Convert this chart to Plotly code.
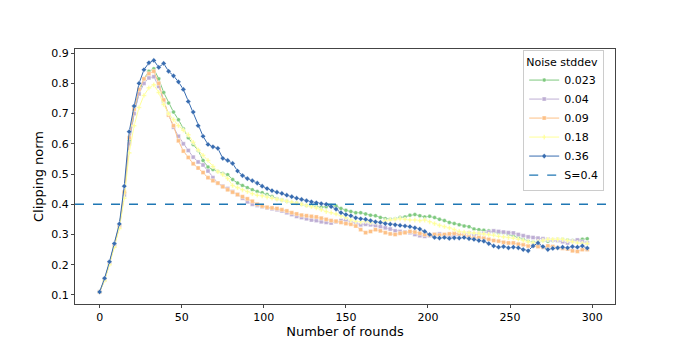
import plotly.graph_objects as go

# Data: clipping norm per round (sampled every 3 rounds) for each noise stddev
rounds = list(range(0, 300, 3))

norm_0023 = [0.110, 0.150, 0.205, 0.265, 0.330, 0.440, 0.610, 0.700, 0.770, 0.815,
             0.840, 0.848, 0.815, 0.770, 0.735, 0.705, 0.680, 0.650, 0.620, 0.598,
             0.578, 0.545, 0.523, 0.515, 0.508, 0.502, 0.498, 0.482, 0.470, 0.462,
             0.455, 0.448, 0.442, 0.438, 0.432, 0.426, 0.418, 0.414, 0.410, 0.406,
             0.404, 0.400, 0.396, 0.395, 0.392, 0.390, 0.392, 0.396, 0.394, 0.386,
             0.380, 0.376, 0.372, 0.372, 0.368, 0.364, 0.362, 0.356, 0.352, 0.350,
             0.352, 0.356, 0.358, 0.364, 0.366, 0.362, 0.358, 0.360, 0.356, 0.350,
             0.346, 0.340, 0.336, 0.332, 0.328, 0.326, 0.318, 0.316, 0.314, 0.312,
             0.308, 0.305, 0.306, 0.300, 0.296, 0.290, 0.284, 0.278, 0.274, 0.276,
             0.280, 0.278, 0.280, 0.284, 0.284, 0.282, 0.280, 0.282, 0.284, 0.286]

norm_004 = [0.110, 0.150, 0.205, 0.262, 0.325, 0.430, 0.600, 0.700, 0.765, 0.800,
            0.818, 0.822, 0.790, 0.740, 0.700, 0.655, 0.625, 0.600, 0.578, 0.556,
            0.540, 0.530, 0.510, 0.488, 0.470, 0.460, 0.452, 0.442, 0.432, 0.420,
            0.408, 0.400, 0.396, 0.392, 0.388, 0.385, 0.382, 0.378, 0.372, 0.366,
            0.360, 0.356, 0.352, 0.348, 0.346, 0.342, 0.340, 0.338, 0.342, 0.346,
            0.348, 0.342, 0.336, 0.332, 0.334, 0.332, 0.330, 0.326, 0.322, 0.318,
            0.312, 0.310, 0.308, 0.306, 0.300, 0.296, 0.294, 0.296, 0.300, 0.302,
            0.296, 0.292, 0.296, 0.300, 0.302, 0.305, 0.300, 0.302, 0.304, 0.308,
            0.312, 0.310, 0.308, 0.306, 0.305, 0.300, 0.296, 0.292, 0.290, 0.288,
            0.286, 0.284, 0.282, 0.280, 0.276, 0.272, 0.278, 0.282, 0.276, 0.272]

norm_009 = [0.110, 0.150, 0.205, 0.262, 0.328, 0.440, 0.620, 0.715, 0.780, 0.815,
            0.832, 0.840, 0.800, 0.745, 0.695, 0.660, 0.610, 0.576, 0.555, 0.534,
            0.520, 0.505, 0.488, 0.478, 0.470, 0.458, 0.448, 0.440, 0.432, 0.425,
            0.418, 0.410, 0.400, 0.394, 0.390, 0.388, 0.386, 0.382, 0.378, 0.372,
            0.368, 0.364, 0.362, 0.360, 0.358, 0.354, 0.350, 0.346, 0.344, 0.340,
            0.336, 0.334, 0.328, 0.316, 0.306, 0.310, 0.316, 0.312, 0.306, 0.302,
            0.300, 0.304, 0.306, 0.310, 0.308, 0.304, 0.300, 0.298, 0.300, 0.298,
            0.300, 0.302, 0.304, 0.302, 0.298, 0.292, 0.288, 0.290, 0.288, 0.284,
            0.280, 0.278, 0.274, 0.272, 0.272, 0.268, 0.266, 0.262, 0.262, 0.260,
            0.258, 0.262, 0.260, 0.256, 0.254, 0.252, 0.246, 0.244, 0.250, 0.250]

norm_018 = [0.110, 0.148, 0.200, 0.258, 0.320, 0.420, 0.570, 0.660, 0.720, 0.760,
            0.785, 0.795, 0.770, 0.730, 0.700, 0.680, 0.660, 0.645, 0.630, 0.605,
            0.580, 0.562, 0.545, 0.525, 0.508, 0.498, 0.485, 0.462, 0.455, 0.448,
            0.442, 0.435, 0.430, 0.428, 0.424, 0.420, 0.416, 0.414, 0.410, 0.407,
            0.404, 0.400, 0.396, 0.392, 0.388, 0.382, 0.376, 0.372, 0.368, 0.362,
            0.356, 0.348, 0.344, 0.342, 0.344, 0.340, 0.340, 0.342, 0.345, 0.348,
            0.350, 0.352, 0.350, 0.348, 0.348, 0.346, 0.348, 0.342, 0.336, 0.330,
            0.326, 0.322, 0.316, 0.310, 0.308, 0.306, 0.305, 0.304, 0.302, 0.300,
            0.298, 0.294, 0.292, 0.290, 0.288, 0.284, 0.280, 0.276, 0.272, 0.276,
            0.280, 0.284, 0.284, 0.284, 0.284, 0.280, 0.276, 0.272, 0.270, 0.270]

norm_036 = [0.110, 0.155, 0.210, 0.270, 0.335, 0.460, 0.640, 0.725, 0.800, 0.845,
            0.868, 0.876, 0.853, 0.866, 0.840, 0.825, 0.805, 0.780, 0.740, 0.705,
            0.660, 0.625, 0.598, 0.590, 0.585, 0.552, 0.545, 0.535, 0.510, 0.495,
            0.485, 0.478, 0.470, 0.460, 0.452, 0.445, 0.440, 0.436, 0.430, 0.425,
            0.420, 0.416, 0.412, 0.408, 0.405, 0.402, 0.400, 0.392, 0.384, 0.372,
            0.366, 0.362, 0.355, 0.352, 0.350, 0.346, 0.342, 0.340, 0.336, 0.334,
            0.332, 0.330, 0.328, 0.326, 0.322, 0.318, 0.310, 0.300, 0.290, 0.288,
            0.290, 0.287, 0.289, 0.288, 0.290, 0.286, 0.284, 0.280, 0.278, 0.270,
            0.262, 0.258, 0.260, 0.256, 0.258, 0.256, 0.250, 0.246, 0.262, 0.272,
            0.260, 0.250, 0.254, 0.256, 0.258, 0.256, 0.260, 0.258, 0.262, 0.255]

labels = ["0.023", "0.04", "0.09", "0.18", "0.36"]
series = [norm_0023, norm_004, norm_009, norm_018, norm_036]
colors = ["#7fc97f", "#beaed4", "#fdc086", "#ffff99", "#386cb0"]
symbols = ["circle", "square", "square", "cross", "diamond"]
threshold = 0.4

fig = go.Figure()

for label, vals, color, sym in zip(labels, series, colors, symbols):
    fig.add_trace(go.Scatter(
        x=rounds,
        y=vals,
        mode="lines+markers",
        name=label,
        line=dict(color=color, width=1),
        marker=dict(symbol=sym, size=4, color=color,
                    line=dict(color="white", width=0.4)),
    ))

# Reference line, shown in the legend
fig.add_hline(
    y=threshold,
    line_dash="dash",
    line_color="#1f77b4",
    line_width=1.3,
    showlegend=True,
    name="S=0.4",
)

fig.update_layout(
    width=675,
    height=339,
    plot_bgcolor="white",
    paper_bgcolor="white",
    font=dict(family="DejaVu Sans", size=11, color="black"),
    margin=dict(l=67, r=68, t=41, b=34),
    legend=dict(
        title=dict(text="Noise stddev", font=dict(size=11)),
        x=0.98, xanchor="right", y=0.995, yanchor="top",
        bordercolor="#cccccc", borderwidth=1, bgcolor="white",
        font=dict(size=11),
    ),
)

fig.update_xaxes(
    title=dict(text="Number of rounds", standoff=2),
    range=[-15, 313.9],
    tickvals=[0, 50, 100, 150, 200, 250, 300],
    showgrid=False, zeroline=False,
    showline=True, linecolor="#444", linewidth=1, mirror=True,
    ticks="outside", ticklen=3, tickcolor="#444",
)
fig.update_yaxes(
    title=dict(text="Clipping norm", standoff=4),
    range=[0.07, 0.9137],
    dtick=0.1, tickformat=".1f",
    showgrid=False, zeroline=False,
    showline=True, linecolor="#444", linewidth=1, mirror=True,
    ticks="outside", ticklen=3, tickcolor="#444",
)

fig.write_html("out.html")
